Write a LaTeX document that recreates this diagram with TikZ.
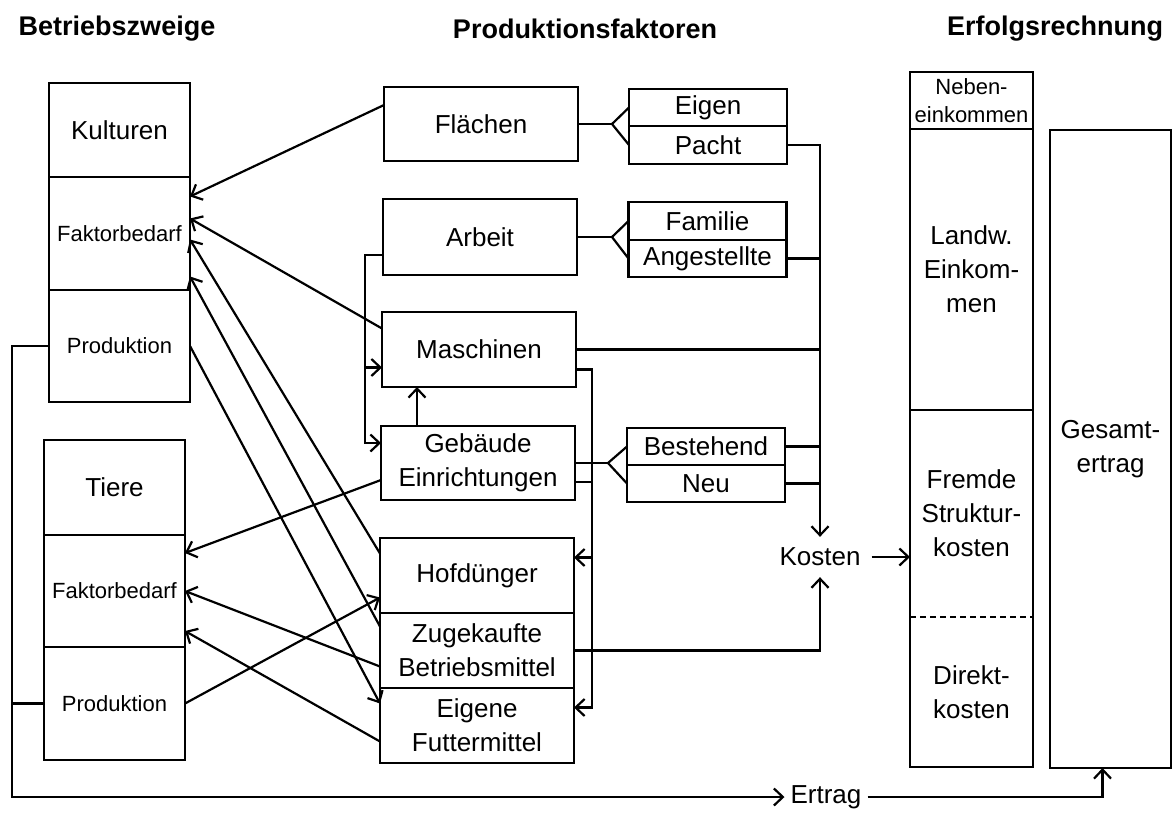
\documentclass[tikz,border=0pt]{standalone}
\usepackage{fontspec}
\setmainfont{Liberation Sans}
\usetikzlibrary{arrows.meta,positioning}

\begin{document}
\begin{tikzpicture}[x=1pt,y=-1pt,line width=2.2pt,
  >={Straight Barb[length=9pt,width=17pt]},
  box/.style={draw,outer sep=0pt,inner sep=0pt,align=center,
    font=\fontsize{26}{34}\selectfont},
  sbox/.style={box,font=\fontsize{22}{28}\selectfont},
  head/.style={font=\bfseries\fontsize{27}{30}\selectfont}
  ]
  \useasboundingbox (0,0) rectangle (1174,817);

  \node[head] (h1) at (117,29) {Betriebszweige};
  \node[head] (h2) at (585,29) {Produktionsfaktoren};
  \node[head] (h3) at (1055,29) {Erfolgsrechnung};

  % Betriebszweige
  \node[box,minimum width=141pt,minimum height=94pt] (kult) at (119.5,130) {Kulturen};
  \node[sbox,minimum width=141pt,minimum height=113pt,below=0pt of kult] (kfak) {Faktorbedarf};
  \node[sbox,minimum width=141pt,minimum height=112pt,below=0pt of kfak] (kprod) {Produktion};
  \node[box,minimum width=141pt,minimum height=95pt] (tier) at (114.5,487.5) {Tiere};
  \node[sbox,minimum width=141pt,minimum height=112pt,below=0pt of tier] (tfak) {Faktorbedarf};
  \node[sbox,minimum width=141pt,minimum height=113pt,below=0pt of tfak] (tprod) {Produktion};

  % Produktionsfaktoren
  \node[box,minimum width=194pt,minimum height=74pt] (flaech) at (481,124) {Flächen};
  \node[box,minimum width=194pt,minimum height=76pt] (arbeit) at (480,237) {Arbeit};
  \node[box,minimum width=194pt,minimum height=75pt] (masch) at (479,349.5) {Maschinen};
  \node[box,minimum width=194pt,minimum height=74pt] (geb) at (478,463) {Gebäude\\Einrichtungen};
  \node[box,minimum width=194pt,minimum height=75pt] (hof) at (477,575.5) {Hofdünger};
  \node[box,minimum width=194pt,minimum height=75pt,below=0pt of hof] (zuk) {Zugekaufte\\Betriebsmittel};
  \node[box,minimum width=194pt,minimum height=75pt,below=0pt of zuk] (eig) {Eigene\\Futtermittel};

  \node[box,minimum width=158pt,minimum height=37pt] (eigen) at (708,107.5) {Eigen};
  \node[box,minimum width=158pt,minimum height=38pt,below=0pt of eigen] (pacht) {Pacht};
  \node[box,minimum width=158pt,minimum height=38pt] (famil) at (707.5,221) {Familie};
  \node[box,minimum width=158pt,minimum height=37pt,below=0pt of famil] (angest) {Angestellte};
  \node[box,minimum width=158pt,minimum height=37pt] (best) at (706,446.5) {Bestehend};
  \node[box,minimum width=158pt,minimum height=37pt,below=0pt of best] (neu) {Neu};

  % Erfolgsrechnung
  \node[sbox,minimum width=123pt,minimum height=57pt] (neben) at (971.5,100.5) {Neben-\\einkommen};
  \node[box,minimum width=123pt,minimum height=281pt,below=0pt of neben] (landw) {Landw.\\Einkom-\\men};
  \node[box,draw=none,minimum width=123pt,minimum height=207pt,below=0pt of landw] (fremd) {Fremde\\Struktur-\\kosten};
  \node[box,draw=none,minimum width=123pt,minimum height=150pt,below=0pt of fremd] (direkt) {Direkt-\\kosten};
  \draw (fremd.north west) rectangle (direkt.south east);
  \draw[line width=1.8pt,dash pattern=on 6pt off 4pt] (fremd.south west) -- (fremd.south east);
  \node[box,minimum width=121pt,minimum height=638pt] (gesamt) at (1110.5,449) {Gesamt-\\ertrag};

  \node[font=\fontsize{26}{30}\selectfont,inner sep=10pt] (kost) at (820,557) {Kosten};
  \node[font=\fontsize{26}{30}\selectfont,inner sep=5pt] (ertrag) at (826,797) {Ertrag};

  % Verzweigungen
  \coordinate (f1) at (612,124);
  \coordinate (f2) at (612,237);
  \coordinate (f3) at (608,463);
  \draw (flaech.east) -- (f1);
  \draw (eigen.west) -- (f1) -- (pacht.west);
  \draw (arbeit.east) -- (f2);
  \draw (famil.west) -- (f2) -- (angest.west);
  \draw (geb.east) -- (f3);
  \draw (best.west) -- (f3) -- (neu.west);

  % Kosten
  \draw[->] (pacht.east) -| (kost.north);
  \draw (angest.east) -- (angest.east -| kost.north);
  \draw (masch.east) -- (masch.east -| kost.north);
  \draw (best.east) -- (best.east -| kost.north);
  \draw (neu.east) -- (neu.east -| kost.north);
  \draw[->] (zuk.east) -| (kost.south);
  \draw[->] (kost.east) -- (kost.east -| fremd.west);

  \coordinate (mb) at ([yshift=-20pt]masch.east);
  \coordinate (bus) at ([xshift=16pt]mb);
  \coordinate (hofin) at ([yshift=18pt]hof.east);
  \coordinate (g2) at ([yshift=-19pt]geb.east);
  \draw[->] (mb) -- (bus) |- ([yshift=18pt]eig.east);
  \draw[->] (bus |- hofin) -- (hofin);
  \draw (g2) -- (g2 -| bus);

  \coordinate (ab) at ([yshift=-18pt]arbeit.west);
  \coordinate (lb) at ([xshift=-18pt]ab);
  \coordinate (gin) at ([yshift=20pt]geb.west);
  \coordinate (min) at ([yshift=-18pt]masch.west);
  \draw[->] (ab) -- (lb) |- (gin);
  \draw[->] (lb |- min) -- (min);
  \coordinate (gup) at ([xshift=-61pt]geb.north);
  \draw[->] (gup) -- (gup |- masch.south);

  % Faktorbedarf
  \draw[->] ([yshift=19pt]flaech.west) -- ([yshift=37pt]kfak.east);
  \draw[->] ([yshift=21pt]masch.west) -- ([yshift=15pt]kfak.east);
  \draw[->] ([yshift=22pt]hof.west) -- ([yshift=-6pt]kfak.east);
  \draw[->] ([yshift=24pt]zuk.west) -- ([yshift=-43pt]kfak.east);
  \draw[->] (kprod.east) -- ([yshift=22pt]eig.west);
  \draw[->] ([yshift=-17pt]geb.west) -- ([yshift=38pt]tfak.east);
  \draw[->] ([yshift=-16pt]zuk.west) -- (tfak.east);
  \draw[->] ([yshift=-16pt]eig.west) -- ([yshift=-40pt]tfak.east);
  \draw[->] (tprod.east) -- ([yshift=-22pt]hof.west);

  % Ertrag
  \draw[->] (kprod.west) -- ++(-37,0) |- (ertrag.west);
  \draw (tprod.west) -- ++(-32,0);
  \draw[->] (ertrag.east) -| ([xshift=-8pt]gesamt.south);
\end{tikzpicture}
\end{document}
